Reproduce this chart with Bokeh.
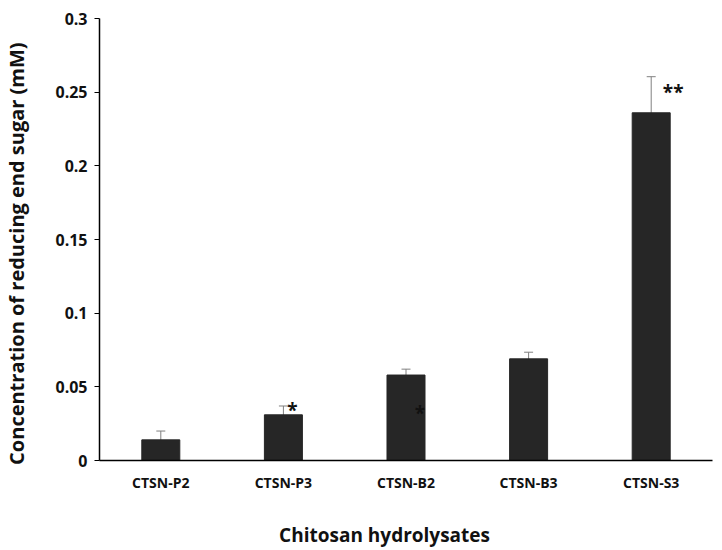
from bokeh.plotting import figure
from bokeh.models import (ColumnDataSource, Whisker, TeeHead, FixedTicker,
                          LinearAxis, Range1d)
from bokeh.core.properties import value
from bokeh.embed import file_html
from bokeh.resources import INLINE

categories = ["CTSN-P2", "CTSN-P3", "CTSN-B2", "CTSN-B3", "CTSN-S3"]
means = [0.014, 0.031, 0.058, 0.069, 0.236]
errors = [0.006, 0.006, 0.004, 0.0045, 0.0245]
marks = ["", "*", "*", "", "**"]
mark_y = [0.0, 0.034, 0.0325, 0.0, 0.250]
mark_dx = [0, 9, 14, 0, 22]
y_ticks = [0, 0.05, 0.1, 0.15, 0.2, 0.25, 0.3]
y_tick_labels = ["0", "0.05", "0.1", "0.15", "0.2", "0.25", "0.3"]
x_title = "Chitosan hydrolysates"
y_title = "Concentration of reducing end sugar (mM)"

FONT = "Open Sans"
W, H = 720, 550

xpos = [i + 0.5 for i in range(len(categories))]

src = ColumnDataSource(dict(
    x=xpos, top=means,
    upper=[m + e for m, e in zip(means, errors)],
    lower=[m - e for m, e in zip(means, errors)],
))
msrc = ColumnDataSource(dict(
    x=[c for c, m in zip(xpos, marks) if m],
    y=[y for y, m in zip(mark_y, marks) if m],
    t=[m for m in marks if m],
    dx=[d for d, m in zip(mark_dx, marks) if m],
))

p = figure(width=W, height=H, output_backend="svg", toolbar_location=None,
           x_range=Range1d(0, len(categories)), y_range=Range1d(0, 0.3))
p.min_border_left = 99
p.min_border_right = 8
p.min_border_top = 18
p.min_border_bottom = 90
p.outline_line_color = None
p.grid.visible = False
p.background_fill_color = "white"

# helper ranges used only to position the axis titles (fraction of frame)
p.extra_x_ranges = {"title": Range1d(0, 1)}
p.extra_y_ranges = {"title": Range1d(0, 1)}

p.vbar(x="x", top="top", width=0.31, source=src, fill_color="#262626",
       line_color="#262626")

w = Whisker(base="x", upper="upper", lower="lower", source=src,
            line_color="#808080", line_width=1,
            upper_head=TeeHead(size=9, line_color="#808080", line_width=1),
            lower_head=TeeHead(size=9, line_color="#808080", line_width=1))
p.add_layout(w)

p.text(x="x", y="y", text="t", x_offset="dx", source=msrc,
       text_font=value(FONT), text_font_style="bold", text_font_size="19px",
       text_color="#111111", text_align="center", text_baseline="middle")

ya = p.yaxis[0]
ya.ticker = FixedTicker(ticks=y_ticks)
ya.major_label_overrides = {t: l for t, l in zip(y_ticks, y_tick_labels)}
ya.major_tick_out = 5
ya.major_tick_in = 0
ya.minor_tick_out = 0
ya.minor_tick_in = 0
ya.axis_line_width = 1.5
ya.axis_line_color = "black"
ya.major_tick_line_color = "black"
ya.major_tick_line_width = 1.2
ya.major_label_text_font = FONT
ya.major_label_text_font_style = "bold"
ya.major_label_text_font_size = "16px"
ya.major_label_text_color = "#111111"
ya.major_label_standoff = 7

xa = p.xaxis[0]
xa.ticker = FixedTicker(ticks=xpos)
xa.major_label_overrides = {t: c for t, c in zip(xpos, categories)}
xa.major_tick_out = 0
xa.major_tick_in = 0
xa.minor_tick_out = 0
xa.minor_tick_in = 0
xa.axis_line_width = 1.5
xa.axis_line_color = "black"
xa.major_label_text_font = FONT
xa.major_label_text_font_style = "bold"
xa.major_label_text_font_size = "14px"
xa.major_label_text_color = "#111111"
xa.major_label_standoff = 12

# x title (off-centre, as in the original)
x_pos = 0.465
xt = LinearAxis(x_range_name="title", ticker=FixedTicker(ticks=[x_pos]),
                major_label_overrides={x_pos: x_title})
xt.axis_line_color = None
xt.major_tick_line_color = None
xt.minor_tick_line_color = None
xt.major_label_standoff = 21
xt.major_label_text_font = FONT
xt.major_label_text_font_style = "bold"
xt.major_label_text_font_size = "19px"
xt.major_label_text_color = "#111111"
p.add_layout(xt, "below")

# y title
y_pos = 0.468
yt = LinearAxis(y_range_name="title", ticker=FixedTicker(ticks=[y_pos]),
                major_label_overrides={y_pos: y_title})
yt.axis_line_color = None
yt.major_tick_line_color = None
yt.minor_tick_line_color = None
yt.major_label_orientation = "parallel"
yt.major_label_standoff = 16
yt.major_label_text_font = FONT
yt.major_label_text_font_style = "bold"
yt.major_label_text_font_size = "20px"
yt.major_label_text_color = "#111111"
p.add_layout(yt, "left")

open("out.html", "w").write(file_html(p, INLINE))
